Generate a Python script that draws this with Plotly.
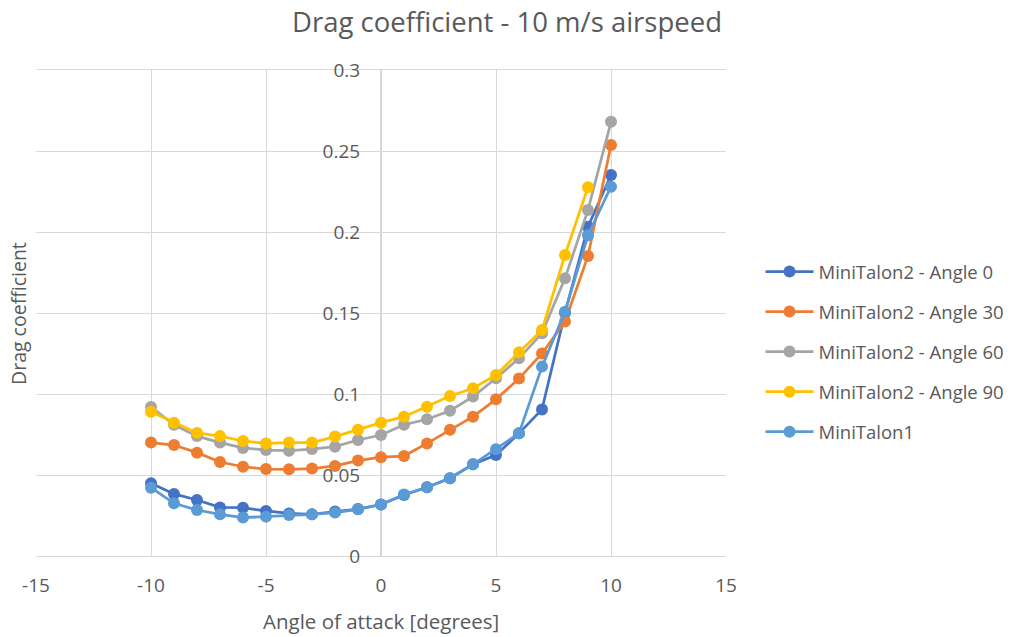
import plotly.graph_objects as go

aoa = [-10, -9, -8, -7, -6, -5, -4, -3, -2, -1, 0, 1, 2, 3, 4, 5, 6, 7, 8, 9, 10]
aoa_angle90 = [-10, -9, -8, -7, -6, -5, -4, -3, -2, -1, 0, 1, 2, 3, 4, 5, 6, 7, 8, 9]

mt2_angle0 = [0.0449, 0.0383, 0.0346, 0.0300, 0.0298, 0.0278, 0.0263, 0.0257, 0.0274, 0.0290, 0.0318,
              0.0377, 0.0424, 0.0480, 0.0566, 0.0623, 0.0757, 0.0905, 0.1500, 0.2033, 0.2352]
mt2_angle30 = [0.0700, 0.0685, 0.0638, 0.0580, 0.0551, 0.0537, 0.0535, 0.0540, 0.0556, 0.0589, 0.0610,
               0.0617, 0.0695, 0.0780, 0.0860, 0.0967, 0.1095, 0.1250, 0.1447, 0.1852, 0.2537]
mt2_angle60 = [0.0920, 0.0810, 0.0740, 0.0700, 0.0667, 0.0654, 0.0650, 0.0660, 0.0675, 0.0716, 0.0747,
               0.0810, 0.0844, 0.0897, 0.0984, 0.1097, 0.1220, 0.1375, 0.1714, 0.2136, 0.2680]
mt2_angle90 = [0.0890, 0.0823, 0.0760, 0.0740, 0.0710, 0.0695, 0.0700, 0.0700, 0.0737, 0.0780, 0.0823,
               0.0860, 0.0922, 0.0988, 0.1035, 0.1117, 0.1257, 0.1395, 0.1858, 0.2276]
minitalon1 = [0.0422, 0.0325, 0.0284, 0.0257, 0.0237, 0.0243, 0.0253, 0.0257, 0.0268, 0.0288, 0.0318,
              0.0380, 0.0424, 0.0480, 0.0566, 0.0659, 0.0757, 0.1169, 0.1508, 0.1980, 0.2280]

series = [
    ("MiniTalon2 - Angle 0", aoa, mt2_angle0, "#4472C4"),
    ("MiniTalon2 - Angle 30", aoa, mt2_angle30, "#ED7D31"),
    ("MiniTalon2 - Angle 60", aoa, mt2_angle60, "#A5A5A5"),
    ("MiniTalon2 - Angle 90", aoa_angle90, mt2_angle90, "#FFC000"),
    ("MiniTalon1", aoa, minitalon1, "#5B9BD5"),
]

x_ticks = [-15, -10, -5, 0, 5, 10, 15]
y_ticks = [0, 0.05, 0.1, 0.15, 0.2, 0.25, 0.3]
y_tick_text = ["0", "0.05", "0.1", "0.15", "0.2", "0.25", "0.3"]
x_tick_text = ["-15", "-10", "-5", "0", "5", "10", "15"]

FONT = "Open Sans"
TXT = "#595959"
GRID = "#D9D9D9"

fig = go.Figure()
for i, (name, xs, ys, col) in enumerate(series):
    fig.add_trace(go.Scatter(
        x=xs, y=ys, name=name, mode="lines+markers",
        line=dict(color=col, width=2.75),
        marker=dict(color=col, size=12),
        legendgroup=f"g{i}",
    ))

fig.update_layout(
    width=1023, height=637,
    margin=dict(l=36, r=297, t=70, b=81, autoexpand=False),
    paper_bgcolor="white", plot_bgcolor="white",
    font=dict(family=FONT, color=TXT, size=19),
    title=dict(text="Drag coefficient - 10 m/s airspeed", xref="container", x=0.4956,
               xanchor="center", yref="container", y=0.9655, yanchor="middle",
               font=dict(size=27.5, color=TXT, family=FONT)),
    showlegend=True,
    legend=dict(x=1.05, xanchor="left", y=0.4198, yanchor="middle",
                font=dict(size=18.5, color=TXT), tracegroupgap=13, itemwidth=48,
                bgcolor="rgba(0,0,0,0)"),
    xaxis=dict(range=[-15, 15], tickvals=x_ticks, ticktext=x_tick_text,
               showgrid=True, gridcolor=GRID, gridwidth=1.3,
               zeroline=False, showline=True, linecolor=GRID, linewidth=1.3, mirror=True,
               ticks="outside", ticklen=12, tickcolor="rgba(0,0,0,0)",
               tickfont=dict(size=19, color=TXT)),
    yaxis=dict(range=[0, 0.3], tickvals=y_ticks, ticktext=y_tick_text,
               showgrid=True, gridcolor=GRID, gridwidth=1.3,
               zeroline=False, showline=False,
               ticks="outside", ticklen=17, tickcolor="rgba(0,0,0,0)",
               anchor="free", position=0.5,
               tickfont=dict(size=19, color=TXT)),
)

# y-axis line at x = 0 (Excel crossing)
fig.add_shape(type="line", xref="x", yref="paper", x0=0, x1=0, y0=0, y1=1,
              line=dict(color="#BFBFBF", width=1.3), layer="below")
# axis titles
fig.add_annotation(text="Drag coefficient", xref="paper", yref="paper",
                   x=-0.0261, y=0.5, xanchor="center", yanchor="middle",
                   textangle=-90, showarrow=False, font=dict(size=19.5, color=TXT))
fig.add_annotation(text="Angle of attack [degrees]", xref="paper", yref="paper",
                   x=0.5, y=-0.1337, xanchor="center", yanchor="middle",
                   showarrow=False, font=dict(size=20.5, color=TXT))

fig.write_html("out.html", config={"displayModeBar": False},
               post_script="document.body.style.margin='0px';")
